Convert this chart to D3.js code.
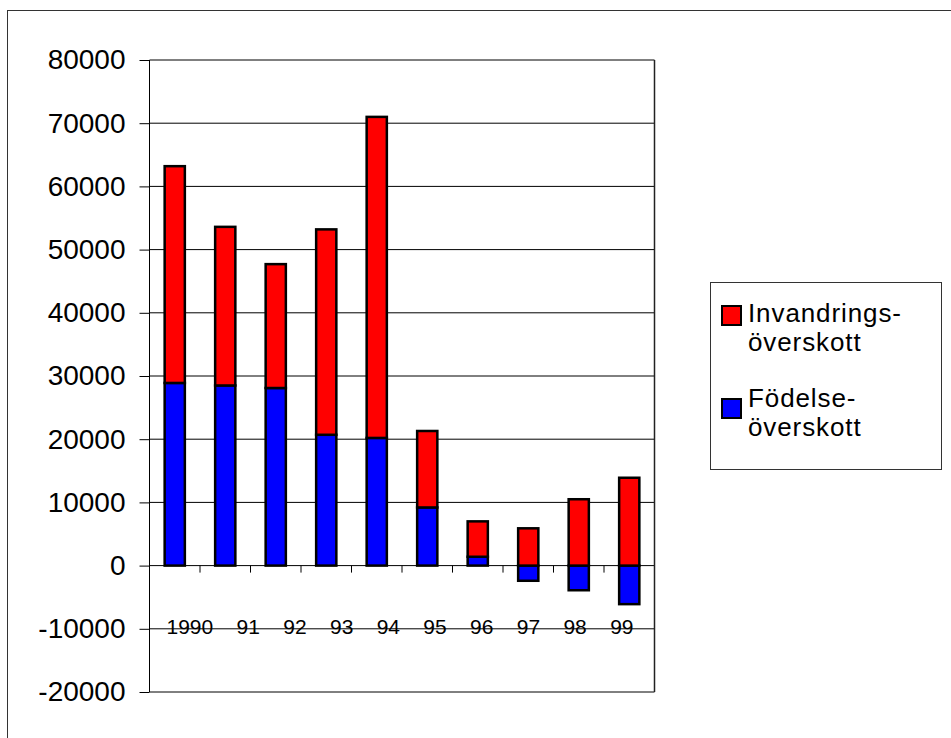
<!DOCTYPE html>
<html>
<head>
<meta charset="utf-8">
<script src="https://cdn.jsdelivr.net/npm/d3@7"></script>
<style>
  html, body { margin: 0; padding: 0; background: #fff; }
  svg { display: block; }
  text { font-family: "Liberation Sans", Arial, sans-serif; fill: #000; }
</style>
</head>
<body>
<script>
// ---- data ----
const years = ["1990", "91", "92", "93", "94", "95", "96", "97", "98", "99"];
const fodelse = [28900, 28500, 28100, 20700, 20200, 9200, 1400, -2400, -3900, -6100];      // Födelseöverskott (blue)
const invandring = [34300, 25100, 19600, 32500, 50800, 12100, 5600, 5900, 10500, 13900]; // Invandringsöverskott (red)
const yTicks = [-20000, -10000, 0, 10000, 20000, 30000, 40000, 50000, 60000, 70000, 80000];
const seriesNames = ["Invandrings-\növerskott", "Födelse-\növerskott"];
const seriesColors = ["#ff0000", "#0000ff"];

const W = 951, H = 738;
const plot = { left: 149.5, right: 654.5, top: 60, bottom: 692 };

const svg = d3.select("body").append("svg").attr("width", W).attr("height", H);

// outer chart border
svg.append("rect").attr("x", 7.5).attr("y", 10.5).attr("width", 1000).attr("height", 1000)
  .attr("fill", "none").attr("stroke", "#333").attr("stroke-width", 1);

const x = d3.scaleBand().domain(years).range([plot.left, plot.right]).paddingInner(0.6).paddingOuter(0.3);
const y = d3.scaleLinear().domain([-20000, 80000]).range([plot.bottom, plot.top]);

// gridlines
svg.append("g").selectAll("line").data(yTicks).join("line")
  .attr("x1", plot.left).attr("x2", plot.right)
  .attr("y1", d => y(d)).attr("y2", d => y(d))
  .attr("stroke", "#000").attr("stroke-width", 1);

// y axis
const yAxis = d3.axisLeft(y).tickValues(yTicks).tickSize(10).tickPadding(14).tickFormat(d => String(d));
const gy = svg.append("g").attr("transform", `translate(${plot.left},0)`).call(yAxis);
gy.select(".domain").remove();
gy.selectAll(".tick line").attr("stroke", "#000");
gy.selectAll(".tick text").attr("font-size", 28).attr("font-family", "Liberation Sans, Arial, sans-serif").attr("fill", "#000");
gy.append("line").attr("x1", 0).attr("x2", 0).attr("y1", plot.top).attr("y2", plot.bottom).attr("stroke", "#000");

// plot border right
svg.append("line").attr("x1", plot.right).attr("x2", plot.right).attr("y1", plot.top).attr("y2", plot.bottom)
  .attr("stroke", "#222").attr("stroke-width", 1.5);

// category boundary ticks on the zero line
const step = x.step();
svg.append("g").selectAll("line").data(years.slice(1)).join("line")
  .attr("x1", d => x(d) - x.paddingInner() * step / 2).attr("x2", d => x(d) - x.paddingInner() * step / 2)
  .attr("y1", y(0)).attr("y2", y(0) + 7)
  .attr("stroke", "#000").attr("stroke-width", 1);

// stacked bars
const bars = svg.append("g");
years.forEach((yr, i) => {
  const b = fodelse[i], r = invandring[i];
  const bTop = Math.max(0, b), bBot = Math.min(0, b);
  const rBase = b > 0 ? b : 0;
  bars.append("rect")
    .attr("x", x(yr)).attr("width", x.bandwidth())
    .attr("y", y(bTop)).attr("height", y(bBot) - y(bTop))
    .attr("fill", seriesColors[1]).attr("stroke", "#000").attr("stroke-width", 2.5);
  bars.append("rect")
    .attr("x", x(yr)).attr("width", x.bandwidth())
    .attr("y", y(rBase + r)).attr("height", y(rBase) - y(rBase + r))
    .attr("fill", seriesColors[0]).attr("stroke", "#000").attr("stroke-width", 2.5);
});

// category labels (single text line, as in the original)
svg.append("text")
  .attr("x", 166.5).attr("y", 633.5)
  .attr("font-size", 21)
  .attr("xml:space", "preserve")
  .style("white-space", "pre")
  .text(years.join("    "));

// legend
const lg = svg.append("g");
lg.append("rect").attr("x", 710.5).attr("y", 282.5).attr("width", 231).attr("height", 187)
  .attr("fill", "#fff").attr("stroke", "#333").attr("stroke-width", 1);
const legendItems = [
  { name: seriesNames[0], color: seriesColors[0], sy: 306, ty: 322 },
  { name: seriesNames[1], color: seriesColors[1], sy: 399, ty: 407 }
];
legendItems.forEach(it => {
  lg.append("rect").attr("x", 722).attr("y", it.sy).attr("width", 19).attr("height", 19)
    .attr("fill", it.color).attr("stroke", "#000").attr("stroke-width", 2);
  it.name.split("\n").forEach((line, k) => {
    lg.append("text").attr("x", 748).attr("y", it.ty + k * 29)
      .attr("font-size", 26).attr("letter-spacing", 0.9).text(line);
  });
});
</script>
</body>
</html>
